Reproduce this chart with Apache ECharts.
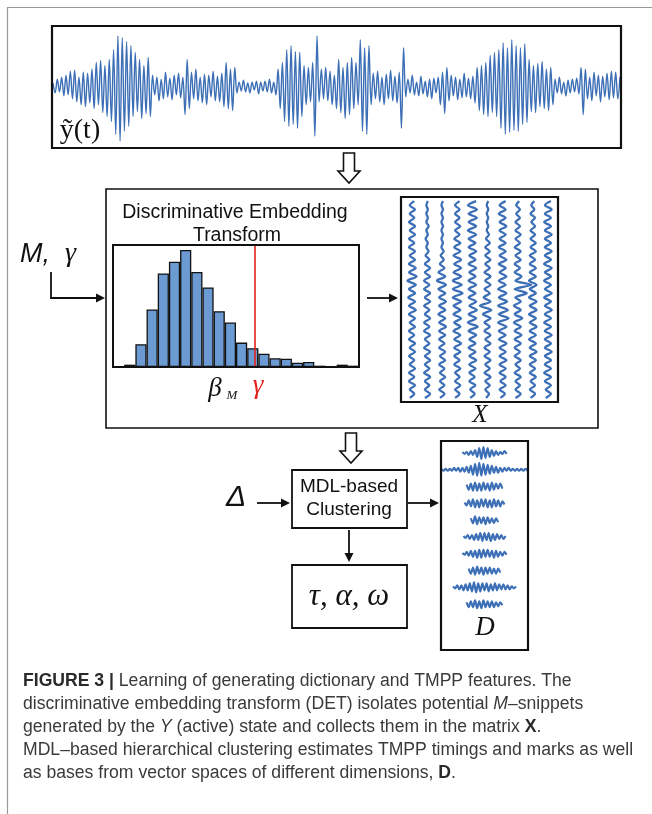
<!DOCTYPE html>
<html>
<head>
<meta charset="utf-8">
<title>Figure 3</title>
<script src="https://cdn.jsdelivr.net/npm/echarts@6/dist/echarts.min.js"></script>
<style>
html,body{margin:0;padding:0;background:#fff;}
#main{width:652px;height:814px;}
</style>
</head>
<body>
<div id="main"></div>
<script>
// observed signal y~(t): successive peak values (up = positive)
var signal = [
  4,-6,8,-5,10,-9,12,-8,
  16,-12,17,-15,10,-18,15,-20,14,-16,18,
  -22,25,-18,27,-26,22,-30,28,
  -35,38,
  -48,52,-55,50,-45,
  46,-40,42,
  -30,35,-25,28,-32,22,-27,30,
  -30,
  12,-8,10,-14,8,-12,15,-10,9,-13,12,-8,14,-11,10,
  -28,28,-22,
  15,-12,18,-14,10,-16,13,-18,12,-10,16,-14,11,-15,14,
  -20,25,-22,18,-24,20,
  -6,5,-4,7,-5,4,-6,5,-3,6,-7,5,-4,6,-5,8,-6,5,-8,
  18,-22,25,
  -35,38,-40,42,-38,36,-42,35,-30,
  22,-18,20,-15,25,
  -50,52,
  -15,18,-12,20,-14,16,-18,12,
  -22,28,-26,20,-32,25,-28,30,
  -22,25,-18,
  48,-45,40,-48,42,
  -18,14,-12,16,-15,10,-18,13,-12,17,-14,11,-16,15,
  -42,40,
  -10,8,-6,12,-8,5,-9,11,-7,6,-10,8,-12,9,-6,10,
  -18,15,-27,20,-14,
  12,-9,10,-13,8,-11,14,-10,9,-12,11,
  -16,20,-24,22,-28,25,-30,32,-26,35,-30,
  38,-42,45,-48,40,-46,48,-44,42,-45,40,-38,44,-36,
  28,-25,22,-26,24,-20,26,-22,18,-24,20,-18,
  8,-6,10,-7,5,-9,7,-6,8,-5,9,-7,
  20,-28,18,
  -12,10,-14,15,-9,12,-15,11,-10,14,-13,16,-11,15,-12,10
];

// histogram of beta_M
var histCounts = [0,7,68,172,280,315,350,284,238,167,133,73,56,40,26,25,13,15,4,2,7,4];
var histBins = histCounts.map(function (v, i) { return 'bin' + (i + 1); });
var gammaBin = 12.7;

// snippet matrix X: horizontal wiggle of each column, top to bottom
var matrixCols = [
  [3,-3,4,-3,3,-4,4,-3,4,-4,3,-4,4,-3,4,-4,5,-4,6,-6,5,-4,4,-5,4,-4,5,-4,4,-3,4,-4,3,-4,4,-3,4,-4,3,-3,4,-4,3,-4,4,-3,3,-3],
  [1,-1,1,-1,1,-1,2,-1,1,-2,1,-1,2,-2,3,-3,4,-3,4,-4,3,-4,4,-3,4,-4,3,-3,4,-4,3,-4,4,-3,3,-4,4,-3,4,-3,3,-4,4,-3,3,-3,4,-3],
  [1,-1,1,-1,1,-1,1,-1,1,-1,1,-1,2,-2,2,-3,3,-5,4,-7,5,-5,4,-4,5,-4,4,-5,4,-4,5,-4,4,-4,3,-4,4,-3,4,-4,3,-3,4,-3,3,-4,3,-3],
  [3,-3,3,-3,3,-3,4,-3,3,-4,4,-4,4,-5,5,-4,5,-5,5,-6,6,-6,7,-6,5,-5,4,-5,5,-4,4,-5,4,-4,5,-4,4,-4,3,-4,4,-3,3,-3,4,-3,3,-3],
  [5,-6,6,-5,6,-5,5,-6,5,-5,4,-5,5,-4,4,-5,5,-4,4,-5,5,-5,4,-5,5,-4,6,-5,5,-6,7,-5,5,-4,4,-5,4,-4,5,-4,4,-4,3,-4,4,-3,3,-3],
  [1,-1,1,-1,1,-1,1,-1,2,-2,3,-3,3,-3,4,-3,3,-4,4,-3,4,-4,3,-5,4,-10,5,-6,4,-4,3,-4,4,-3,4,-4,3,-4,4,-3,3,-4,4,-3,3,-3,2,-2],
  [4,-4,4,-5,4,-4,5,-4,4,-4,4,-5,4,-4,5,-5,4,-4,5,-5,4,-6,5,-5,6,-6,7,-5,8,-6,5,-5,4,-5,5,-4,4,-4,5,-4,4,-4,4,-3,4,-4,3,-3],
  [2,-2,3,-2,3,-3,3,-3,4,-3,3,-4,4,-3,4,-4,3,-4,5,-3,18,-4,12,-3,4,-5,4,-4,6,-5,4,-4,5,-4,4,-4,3,-4,4,-3,3,-4,4,-3,3,-3,4,-3],
  [2,-2,2,-3,3,-2,3,-3,3,-3,4,-3,4,-4,3,-4,4,-4,4,-5,5,-4,4,-5,5,-4,5,-5,4,-4,5,-4,4,-5,4,-4,5,-4,4,-4,3,-4,4,-3,3,-4,3,-3],
  [4,-4,5,-4,4,-5,4,-4,5,-4,4,-4,5,-4,4,-5,5,-4,4,-5,4,-4,5,-5,4,-4,5,-4,4,-5,4,-4,5,-4,4,-4,5,-4,4,-4,4,-5,4,-4,4,-3,4,-3]
];

// dictionary D: vertical wiggle of each basis snippet, left to right
var dictSnippets = [
  [1,-1,1,-2,2,-2,3,-4,5,-6,6,-5,5,-4,3,-3,2,-2,1,-1,2,-1],
  [1,-1,1,-1,1,-1,2,-1,2,-2,2,-2,3,-3,4,-5,6,-6,7,-6,6,-5,5,-4,4,-3,3,-3,2,-2,2,-1,2,-1,1,-1,1,-1,1,-1,1,-1],
  [2,-3,3,-4,4,-4,3,-4,4,-3,3,-4,4,-3,3,-2,3,-2],
  [1,-2,3,-3,4,-4,3,-4,4,-3,4,-4,3,-4,4,-3,3,-3,2,-1],
  [2,-3,4,-4,3,-3,3,-4,3,-3,2,-3,2,-2],
  [1,-1,2,-2,2,-3,3,-3,4,-4,4,-3,4,-4,3,-3,3,-2,2,-2,1],
  [1,-1,2,-2,3,-3,3,-4,4,-4,4,-3,4,-3,3,-4,3,-3,2,-2,2,-1],
  [2,-3,3,-4,4,-3,3,-4,3,-3,3,-3,2,-3,2,-2],
  [1,-1,2,-2,2,-3,3,-3,4,-4,5,-5,4,-4,4,-3,4,-4,3,-3,4,-3,3,-2,3,-2,2,-2,1,-1,1],
  [2,-3,3,-3,4,-4,3,-4,4,-3,3,-3,3,-3,2,-2,2,-1]
];

var captionLines = [
  '{b|FIGURE 3 |}{n| Learning of generating dictionary and TMPP features. The}',
  '{n|discriminative embedding transform (DET) isolates potential }{i|M}{n|\u2013snippets}',
  '{n|generated by the }{i|Y}{n| (active) state and collects them in the matrix }{b|X}{n|.}',
  '{n|MDL\u2013based hierarchical clustering estimates TMPP timings and marks as well}',
  '{n|as bases from vector spaces of different dimensions, }{b|D}{n|.}'
];

var BLUE = '#3c6fb6';
var COL_STEP = 15.1;   // spacing between columns of X
var WIGGLE = 0.75;     // px per wiggle unit in X
var SNIP_STEP = 2.1;   // spacing between samples of a D snippet
var ROW_STEP = 16.8;   // spacing between D snippets

var chart = echarts.init(document.getElementById('main'));

var series = [];
series.push({
  type: 'line', xAxisIndex: 0, yAxisIndex: 0, symbol: 'none', smooth: 0.35,
  data: signal.map(function (v, i) { return [i, v]; }),
  lineStyle: { color: BLUE, width: 1.4 }
});
series.push({
  type: 'bar', xAxisIndex: 1, yAxisIndex: 1, barCategoryGap: 0,
  data: histCounts,
  itemStyle: { color: '#6c9bd3', borderColor: '#111', borderWidth: 1.3 }
});
series.push({
  type: 'line', xAxisIndex: 2, yAxisIndex: 1, symbol: 'none',
  data: [[gammaBin, 0], [gammaBin, 365]],
  lineStyle: { color: '#e3221c', width: 1.6 }
});
matrixCols.forEach(function (col, c) {
  series.push({
    type: 'line', xAxisIndex: 3, yAxisIndex: 2, symbol: 'none', smooth: 0.3,
    data: col.map(function (v, k) { return [c * COL_STEP + v * WIGGLE, k]; }),
    lineStyle: { color: BLUE, width: 2.3 }
  });
});
dictSnippets.forEach(function (s, r) {
  var n = s.length;
  series.push({
    type: 'line', xAxisIndex: 4, yAxisIndex: 3, symbol: 'none', smooth: 0.3,
    data: s.map(function (v, k) { return [(k - (n - 1) / 2) * SNIP_STEP, 12 + r * ROW_STEP - v]; }),
    lineStyle: { color: BLUE, width: 2.1 }
  });
});

function rect(x, y, w, h, lw) {
  return { type: 'rect', z: 100, shape: { x: x, y: y, width: w, height: h },
    style: { fill: 'none', stroke: '#111', lineWidth: lw } };
}
function txt(x, y, s, size, family, style, color, align) {
  return { type: 'text', z: 100, style: { x: x, y: y, text: s, fontSize: size, fontFamily: family,
    fontStyle: style || 'normal', fill: color || '#111', textAlign: align || 'center', textVerticalAlign: 'middle' } };
}
function arrow(x1, y1, x2, y2) {
  var a = Math.atan2(y2 - y1, x2 - x1), L = 9, W = 4.5;
  var bx = x2 - L * Math.cos(a), by = y2 - L * Math.sin(a);
  return [
    { type: 'line', z: 100, shape: { x1: x1, y1: y1, x2: bx, y2: by }, style: { stroke: '#111', lineWidth: 1.8 } },
    { type: 'polygon', z: 100, shape: { points: [[x2, y2], [bx + W * Math.sin(a), by - W * Math.cos(a)], [bx - W * Math.sin(a), by + W * Math.cos(a)]] },
      style: { fill: '#111' } }
  ];
}
function hollow(cx, y0, yh, y1) {
  var sw = 5.5, hw = 11;
  return { type: 'polygon', z: 100, shape: { points: [[cx - sw, y0], [cx + sw, y0], [cx + sw, yh], [cx + hw, yh], [cx, y1], [cx - hw, yh], [cx - sw, yh]] },
    style: { fill: '#fff', stroke: '#111', lineWidth: 1.6 } };
}

var SANS = '"Liberation Sans", Arial, sans-serif';
var SERIF = '"Liberation Serif", "DejaVu Serif", serif';
var CAP = { fontFamily: SANS, fontSize: 17.6, fill: '#3a3a3a' };

var graphics = [
  { type: 'line', z: 100, shape: { x1: 8, y1: 7.5, x2: 652, y2: 7.5 }, style: { stroke: '#999', lineWidth: 1.2 } },
  { type: 'line', z: 100, shape: { x1: 7.5, y1: 7, x2: 7.5, y2: 814 }, style: { stroke: '#999', lineWidth: 1.2 } },
  rect(52, 26, 569, 122, 2.2),
  rect(106, 189, 492, 239, 1.6),
  rect(113, 245, 246, 122, 2),
  rect(401, 197, 157, 205, 2.2),
  rect(292, 470, 115, 58, 1.8),
  rect(292, 565, 115, 63, 1.8),
  rect(441, 441, 87, 209, 2.2),
  hollow(349, 153, 171, 183),
  hollow(351, 433, 451, 463),
  { type: 'polyline', z: 100, shape: { points: [[51, 272], [51, 298], [97, 298]] }, style: { stroke: '#111', lineWidth: 1.8, fill: 'none' } },
  txt(80, 131, '\u1ef9(t)', 28, SERIF, 'normal', '#111', 'center'),
  txt(235, 213, 'Discriminative Embedding', 19.5, SANS),
  txt(237, 236, 'Transform', 19.5, SANS),
  { type: 'text', z: 100, style: { x: 20, y: 254, text: '{m|M,  }{g|\u03b3}', textVerticalAlign: 'middle',
    rich: { m: { fontFamily: SANS, fontStyle: 'italic', fontSize: 27, fill: '#111' },
            g: { fontFamily: SERIF, fontStyle: 'italic', fontSize: 28, fill: '#111' } } } },
  txt(215, 389, '\u03b2', 27, SERIF, 'italic'),
  txt(232, 396, 'M', 13, SERIF, 'italic'),
  txt(258, 386, '\u03b3', 27, SERIF, 'italic', '#e3221c'),
  txt(480, 415, 'X', 25, SERIF, 'italic'),
  txt(349, 487, 'MDL-based', 19, SANS),
  txt(349, 510, 'Clustering', 19, SANS),
  txt(236, 498, '\u0394', 30, SANS, 'italic'),
  txt(349, 597, '\u03c4, \u03b1, \u03c9', 31, SERIF, 'italic'),
  txt(485, 628, 'D', 27, SERIF, 'italic')
];
graphics = graphics
  .concat(arrow(367, 298, 398, 298))
  .concat(arrow(96, 298, 105, 298))
  .concat(arrow(257, 503, 290, 503))
  .concat(arrow(408, 503, 439, 503))
  .concat(arrow(349, 530, 349, 562));

captionLines.forEach(function (line, i) {
  graphics.push({ type: 'text', z: 100, style: { x: 23, y: 681 + i * 23, text: line, textVerticalAlign: 'middle',
    rich: {
      n: CAP,
      b: { fontFamily: SANS, fontSize: 17.6, fontWeight: 'bold', fill: '#2a2a2a' },
      i: { fontFamily: SANS, fontSize: 17.6, fontStyle: 'italic', fill: '#3a3a3a' }
    } } });
});

var option = {
  animation: false,
  backgroundColor: '#fff',
  grid: [
    { left: 53, top: 27, width: 567, height: 120 },
    { left: 113, top: 245, width: 246, height: 122 },
    { left: 401, top: 199, width: 157, height: 201 },
    { left: 441, top: 441, width: 87, height: 209 }
  ],
  xAxis: [
    { gridIndex: 0, type: 'value', min: 0, max: signal.length - 1, show: false },
    { gridIndex: 1, type: 'category', data: histBins, show: false },
    { gridIndex: 1, type: 'value', min: 0, max: histCounts.length, show: false },
    { gridIndex: 2, type: 'value', min: -11, max: 146, show: false },
    { gridIndex: 3, type: 'value', min: -43.5, max: 43.5, show: false }
  ],
  yAxis: [
    { gridIndex: 0, type: 'value', min: -61, max: 61, show: false },
    { gridIndex: 1, type: 'value', min: 0, max: 365, show: false },
    { gridIndex: 2, type: 'value', min: -0.5, max: 47.5, inverse: true, show: false },
    { gridIndex: 3, type: 'value', min: 0, max: 209, inverse: true, show: false }
  ],
  series: series,
  graphic: graphics
};
chart.setOption(option);
</script>
</body>
</html>
